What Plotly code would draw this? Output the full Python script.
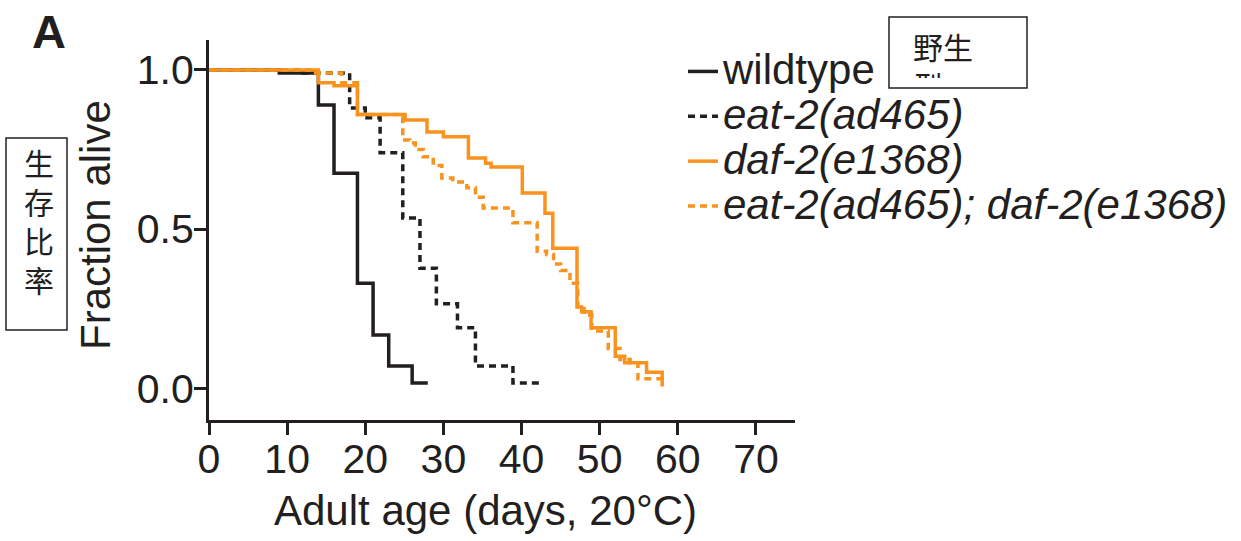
import plotly.graph_objects as go

# Kaplan-Meier style survival steps: day each step starts, fraction alive from then on
wildtype_days = [0, 9, 14, 16, 19, 21, 23, 26, 28]
wildtype_alive = [1.0, 0.99, 0.89, 0.675, 0.33, 0.167, 0.07, 0.016, 0.016]

eat2_days = [0, 12, 18, 20, 21.9, 24.8, 27, 29.1, 31.8, 34.1, 38.9, 42.3]
eat2_alive = [1.0, 0.99, 0.88, 0.85, 0.74, 0.535, 0.377, 0.265, 0.19, 0.07, 0.016, 0.016]

daf2_days = [0, 14, 16, 19, 25.1, 27.9, 30, 33.2, 35.4, 36.1, 40.1, 43, 44,
             47.1, 47.7, 48.9, 52, 53.2, 56, 58]
daf2_alive = [1.0, 0.96, 0.95, 0.86, 0.843, 0.805, 0.79, 0.723, 0.707, 0.695, 0.613,
              0.55, 0.44, 0.255, 0.24, 0.19, 0.10, 0.08, 0.05, 0.01]

eat2_daf2_days = [0, 13, 17, 19, 24.8, 25.7, 26.4, 27.4, 28.7, 29.8, 31.2, 33.0, 34.1,
                  35.1, 38.9, 42.0, 43.2, 44.1, 45.0, 46.2, 47.2, 48.0, 49.0, 51.1,
                  52.6, 53.9, 54.9, 58.0]
eat2_daf2_alive = [1.0, 0.99, 0.96, 0.86, 0.78, 0.77, 0.75, 0.727, 0.70, 0.66, 0.648,
                   0.63, 0.60, 0.566, 0.52, 0.43, 0.42, 0.39, 0.37, 0.33, 0.25, 0.23,
                   0.18, 0.125, 0.09, 0.08, 0.03, 0.005]

x_ticks = [0, 10, 20, 30, 40, 50, 60, 70]
y_ticks = [0.0, 0.5, 1.0]

BLACK = "#231F20"
ORANGE = "#F7931E"
FONT = "Liberation Sans, Arial, Helvetica, sans-serif"
CJK = "Noto Sans CJK SC"

# plot-area edges in pixels, used to place the free-standing labels
PLOT_L, PLOT_R, PLOT_T, PLOT_B = 209, 795, 40, 420
W, H = 1241, 541


def px(x):
    return (x - PLOT_L) / (PLOT_R - PLOT_L)


def py(y):
    return (PLOT_B - y) / (PLOT_B - PLOT_T)


def legend_label(text, italic=False):
    inner = f"<i>{text}</i>" if italic else text
    return f'<span style="font-size:42px">{inner}</span>'


series = [
    ("wildtype", False, wildtype_days, wildtype_alive, BLACK, "solid"),
    ("eat-2(ad465)", True, eat2_days, eat2_alive, BLACK, "7px,5px"),
    ("daf-2(e1368)", True, daf2_days, daf2_alive, ORANGE, "solid"),
    ("eat-2(ad465); daf-2(e1368)", True, eat2_daf2_days, eat2_daf2_alive, ORANGE, "7px,5px"),
]

fig = go.Figure()
for name, italic, days, alive, color, dash in series:
    fig.add_trace(go.Scatter(
        x=days, y=alive, mode="lines", name=legend_label(name, italic),
        line=dict(shape="hv", color=color, width=3.5, dash=dash),
    ))

axis_common = dict(
    showline=True, linewidth=3, linecolor=BLACK,
    ticks="outside", ticklen=12, tickwidth=3, tickcolor=BLACK,
    showgrid=False, zeroline=False,
    tickfont=dict(family=FONT, size=41, color=BLACK),
)

fig.update_xaxes(range=[0, 75], tickvals=x_ticks, ticklabelstandoff=-11, **axis_common)
fig.update_yaxes(range=[-0.1, 1.094], tickvals=y_ticks, tickformat=".1f",
                 ticklabelstandoff=-8, **axis_common)

annotations = [
    dict(text="<b>A</b>", x=px(49), y=py(32), xanchor="center", yanchor="middle",
         font=dict(family=FONT, size=47, color=BLACK)),
    dict(text="Fraction alive", textangle=-90, x=px(96), y=py(225),
         xanchor="center", yanchor="middle", font=dict(family=FONT, size=42, color=BLACK)),
    dict(text="Adult age (days, 20°C)", x=px(485), y=py(510),
         xanchor="center", yanchor="middle", font=dict(family=FONT, size=42, color=BLACK)),
    # boxed Chinese captions; the second line of the top box is cut by the box edge
    dict(text="野生<br>型", x=px(912), y=py(23), xanchor="left", yanchor="top",
         width=110, height=54, align="left", valign="top", borderpad=0,
         font=dict(family=CJK, size=30, color=BLACK)),
    dict(text="生<br>存<br>比<br>率", x=px(39), y=py(220), xanchor="center", yanchor="middle",
         font=dict(family=CJK, size=30, color=BLACK)),
]
for a in annotations:
    a.update(xref="paper", yref="paper", showarrow=False)

shapes = [
    dict(type="rect", xref="paper", yref="paper", x0=px(889), x1=px(1027), y0=py(88), y1=py(17),
         line=dict(color=BLACK, width=1.5), fillcolor="white", layer="above"),
    dict(type="rect", xref="paper", yref="paper", x0=px(6), x1=px(67), y0=py(330), y1=py(138),
         line=dict(color=BLACK, width=1.5), fillcolor="white", layer="above"),
]

fig.update_layout(
    width=W, height=H,
    margin=dict(l=PLOT_L, r=W - PLOT_R, t=PLOT_T, b=H - PLOT_B, autoexpand=False),
    paper_bgcolor="white", plot_bgcolor="white",
    font=dict(family=FONT, color=BLACK),
    showlegend=True,
    legend=dict(x=px(683), y=py(44), xanchor="left", yanchor="top",
                bgcolor="rgba(0,0,0,0)", borderwidth=0,
                font=dict(family=FONT, size=32.2, color=BLACK), itemwidth=30,
                tracegroupgap=0),
    annotations=annotations,
    shapes=shapes,
)

fig.write_html("out.html")
